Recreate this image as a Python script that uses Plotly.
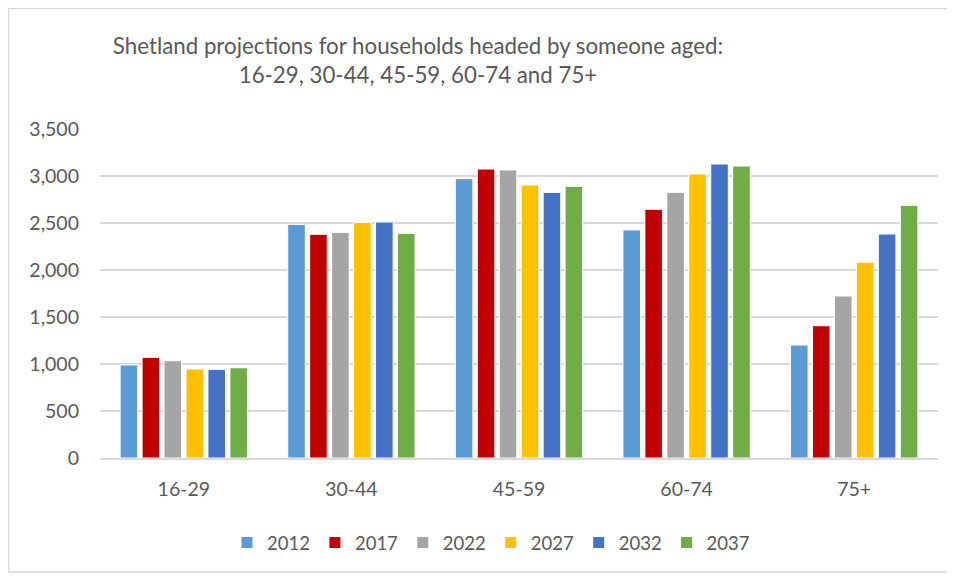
import plotly.graph_objects as go

categories = ["16-29", "30-44", "45-59", "60-74", "75+"]
years = ["2012", "2017", "2022", "2027", "2032", "2037"]
v2012 = [990, 2485, 2972, 2426, 1202]
v2017 = [1071, 2380, 3074, 2646, 1407]
v2022 = [1035, 2400, 3064, 2826, 1723]
v2027 = [947, 2505, 2904, 3021, 2082]
v2032 = [943, 2511, 2826, 3128, 2383]
v2037 = [960, 2390, 2890, 3106, 2688]
series = [v2012, v2017, v2022, v2027, v2032, v2037]
colors = ["#5B9BD5", "#C00000", "#A5A5A5", "#FFC000", "#4472C4", "#70AD47"]

FONT = "Lato, Liberation Sans, sans-serif"
TXT = "#595959"
fig = go.Figure()
for y, vals, c in zip(years, series, colors):
    fig.add_trace(go.Bar(name=y, x=categories, y=vals, marker_color=c,
                         marker_line=dict(color="white", width=1)))

# page has an 8px body margin; figure coordinates = page - 8
OFF = 8
W, H = 955 - OFF, 576 - OFF
L, T = 100 - OFF, 129 - OFF
R = W - (938 - OFF)
B = H - (458 - OFF)
pw, ph = W - L - R, H - T - B

def px(xp):
    return (xp - OFF - L) / pw

def py(yp):
    return 1 - (yp - OFF - T) / ph

fig.update_layout(
    width=W, height=H,
    margin=dict(l=L, r=R, t=T, b=B),
    paper_bgcolor="white", plot_bgcolor="white",
    barmode="group", bargap=0.214, bargroupgap=0.2,
    title=dict(text="Shetland projections for households headed by someone aged:<br>16-29, 30-44, 45-59, 60-74 and 75+",
               x=(418 - OFF) / W, xanchor="center", y=1 - (54 - OFF) / H, yanchor="middle",
               font=dict(family=FONT, size=22.3, color=TXT)),
    font=dict(family=FONT, color=TXT),
    legend=dict(orientation="h", x=px(491), xanchor="center",
                y=py(543), yanchor="middle",
                font=dict(size=18.5, color=TXT), itemwidth=30,
                traceorder="normal"),
    xaxis=dict(tickfont=dict(size=19.5, color=TXT), showline=True,
               linecolor="#D9D9D9", linewidth=1.5, ticks="", showgrid=False,
               ticklabelstandoff=13),
    yaxis=dict(range=[0, 3500], dtick=500, tickformat=",",
               tickfont=dict(size=19.5, color=TXT),
               gridcolor="#D9D9D9", gridwidth=1.5, zeroline=False,
               ticks="", ticklabelstandoff=20),
    shapes=[dict(type="rect", xref="paper", yref="paper",
                 x0=(0.5 - L) / pw, x1=(W + 20 - L) / pw,
                 y0=py(572), y1=1 + (T - 0.5) / ph,
                 line=dict(color="#D9D9D9", width=1.5))],
)
fig.write_html("out.html")
